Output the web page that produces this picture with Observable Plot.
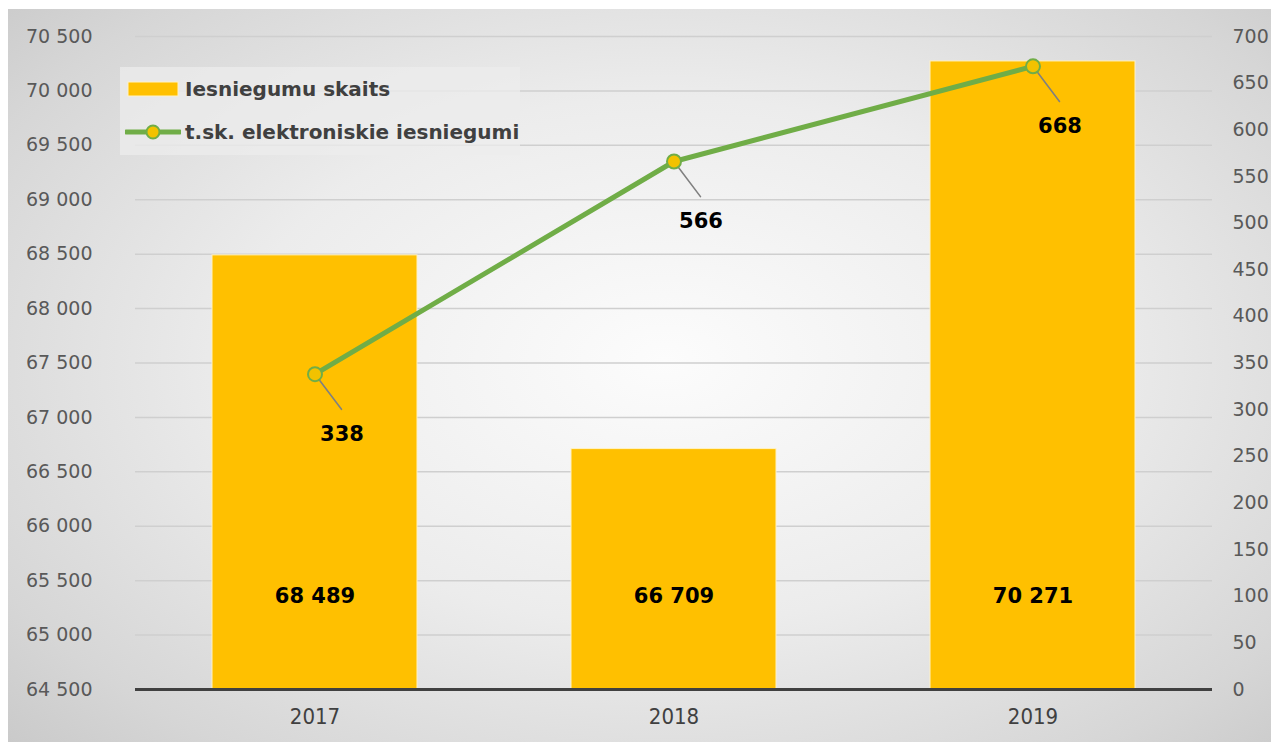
<!DOCTYPE html>
<html>
<head>
<meta charset="utf-8">
<script src="https://cdn.jsdelivr.net/npm/d3@7"></script>
<script src="https://cdn.jsdelivr.net/npm/@observablehq/plot@0.6"></script>
<style>
  html, body { margin: 0; padding: 0; background: #fff; }
  #wrap { position: relative; width: 1271px; height: 742px; overflow: hidden; background: #fff; }
  #bg { position: absolute; left: 8px; top: 9px; right: 0; bottom: 0;
        background: radial-gradient(ellipse 75% 80% at 52% 48%, #fcfcfc 0%, #ececec 45%, #d6d6d6 80%, #c6c6c6 100%); }
  #chart { position: absolute; left: 0; top: 0; }
  #chart svg { background: transparent !important; }
  #chart g[aria-label="x-axis tick label"] text { font-stretch: condensed; }
  #legend { position: absolute; left: 120px; top: 67px; width: 400px; height: 88px;
            background: rgba(236,236,236,0.75); font-family: "DejaVu Sans", sans-serif;
            font-weight: bold; font-size: 20px; color: #404040; }
  .row { position: absolute; left: 5px; display: flex; align-items: center; }
  .row span { margin-left: 4px; }
</style>
</head>
<body>
<div id="wrap">
  <div id="bg"></div>
  <div id="chart"></div>
  <div id="legend"></div>
</div>
<script>
// ---- data ----
const years = ["2017", "2018", "2019"];
const iesniegumuSkaits = [68489, 66709, 70271];
const elektroniskie = [338, 566, 668];
const leftTicks = [64500, 65000, 65500, 66000, 66500, 67000, 67500, 68000, 68500, 69000, 69500, 70000, 70500];
const rightTicks = [0, 50, 100, 150, 200, 250, 300, 350, 400, 450, 500, 550, 600, 650, 700];
const seriesNames = ["Iesniegumu skaits", "t.sk. elektroniskie iesniegumi"];

// ---- build ----
const leftMin = leftTicks[0], leftMax = leftTicks[leftTicks.length - 1];
const rightMax = rightTicks[rightTicks.length - 1];
const toLeft = v => leftMin + v * (leftMax - leftMin) / rightMax;
const fmtSpace = d => d3.format(",")(d).replace(/,/g, " ");

const bars = years.map((y, i) => ({year: y, value: iesniegumuSkaits[i]}));
const line = years.map((y, i) => ({year: y, value: elektroniskie[i], yl: toLeft(elektroniskie[i])}));

const BAR = "#FFC000", GREEN = "#70AD47";
const tickFont = "DejaVu Sans, sans-serif";

const chart = Plot.plot({
  width: 1271,
  height: 742,
  marginLeft: 135,
  marginRight: 59,
  marginTop: 36,
  marginBottom: 53,
  style: {background: "transparent", fontFamily: tickFont, overflow: "visible"},
  x: {domain: years, paddingInner: 0.43, paddingOuter: 0.215, label: null},
  y: {domain: [leftMin, leftMax], label: null},
  marks: [
    Plot.gridY(leftTicks.slice(1), {stroke: "#cfcfcf", strokeOpacity: 1, strokeWidth: 1.5}),
    Plot.barY(bars, {x: "year", y1: leftMin, y2: "value", fill: BAR, stroke: "#fff2c4", strokeWidth: 1}),
    Plot.ruleY([leftMin], {stroke: "#404040", strokeWidth: 3}),
    Plot.text(bars, {x: "year", y: () => leftMin, text: d => fmtSpace(d.value), dy: -93,
      fontSize: 21, fontWeight: "bold", fill: "#000", fontFamily: tickFont}),
    Plot.line(line, {x: "year", y: "yl", stroke: GREEN, strokeWidth: 5}),
    Plot.vector(line, {x: "year", y: "yl", length: 44, rotate: 143, anchor: "start",
      stroke: "#808080", strokeWidth: 1.6,
      shape: {draw(context, l) { context.moveTo(0, 0); context.lineTo(0, -l); }}}),
    Plot.dot(line, {x: "year", y: "yl", r: 7, fill: "#F2C200", stroke: GREEN, strokeWidth: 2}),
    Plot.text(line, {x: "year", y: "yl", text: d => String(d.value), dx: 27, dy: 60,
      fontSize: 21, fontWeight: "bold", fill: "#000", fontFamily: tickFont}),
    Plot.axisY(leftTicks, {anchor: "left", tickSize: 0, tickPadding: 43, tickFormat: fmtSpace,
      fontSize: 19, fill: "#595959", label: null}),
    Plot.axisY(rightTicks.map(toLeft), {anchor: "right", tickSize: 0, tickPadding: 20,
      tickFormat: (d, i) => String(rightTicks[i]), textAnchor: "start",
      fontSize: 19, fill: "#595959", label: null}),
    Plot.axisX({tickSize: 0, tickPadding: 19, fontSize: 22, fill: "#404040",
      fontFamily: "DejaVu Sans Condensed, Liberation Sans Narrow, sans-serif", label: null})
  ]
});
document.getElementById("chart").appendChild(chart);

// ---- legend ----
const legend = document.getElementById("legend");
legend.innerHTML = `
  <div class="row" style="top:10px;">
    <svg width="56" height="18"><rect x="3" y="2" width="50" height="14" fill="${BAR}" stroke="#fff2c4"/></svg>
    <span>${seriesNames[0]}</span>
  </div>
  <div class="row" style="top:53px;">
    <svg width="56" height="20"><line x1="1" y1="10" x2="55" y2="10" stroke="${GREEN}" stroke-width="5" stroke-linecap="round"/>
      <circle cx="28" cy="10" r="6.5" fill="#F2C200" stroke="${GREEN}" stroke-width="2"/></svg>
    <span>${seriesNames[1]}</span>
  </div>`;
</script>
</body>
</html>
